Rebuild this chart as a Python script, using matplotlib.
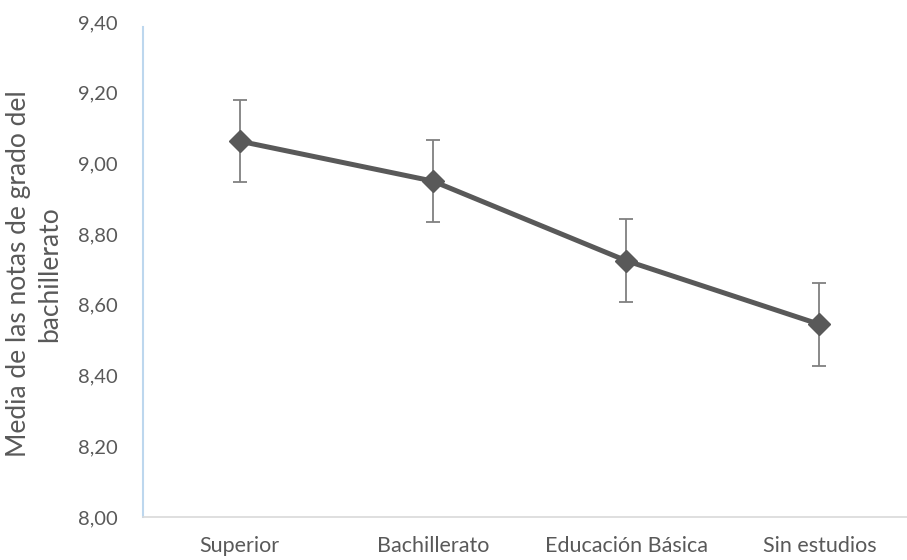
import matplotlib
matplotlib.use("Agg")
import matplotlib.pyplot as plt
from matplotlib.ticker import FuncFormatter

categories = ["Superior", "Bachillerato", "Educación Básica", "Sin estudios"]
means = [9.063, 8.950, 8.725, 8.545]
errors = [0.115, 0.115, 0.117, 0.117]
y_ticks = [8.00, 8.20, 8.40, 8.60, 8.80, 9.00, 9.20, 9.40]
y_label = "Media de las notas de grado del\nbachillerato"

plt.rcParams['font.family'] = ['Lato', 'DejaVu Sans']
text_color = '#595959'

W, H = 907, 560
fig = plt.figure(figsize=(W/100, H/100), dpi=100)
ax = fig.add_axes([143/W, 43/H, (916-143)/W, (517-22)/H])

x = list(range(len(categories)))
ax.errorbar(x, means, yerr=errors, fmt='none', ecolor='#808080',
            elinewidth=1.3, capsize=5, capthick=1.3, zorder=2)
ax.plot(x, means, color='#595959', linewidth=3.6, marker='D',
        markersize=11, markerfacecolor='#595959', markeredgecolor='#595959', zorder=3)

ax.set_xlim(-0.5, 3.5)
ax.set_ylim(8.0, 9.4)
ax.set_yticks(y_ticks)
ax.yaxis.set_major_formatter(FuncFormatter(lambda v, p: f"{v:.2f}".replace('.', ',')))
ax.set_xticks(x)
ax.set_xticklabels(categories)

ax.tick_params(axis='both', length=0, colors=text_color)
ax.tick_params(axis='y', pad=18, labelsize=14.5)
ax.tick_params(axis='x', pad=14, labelsize=15.5)

for s in ['top', 'right']:
    ax.spines[s].set_visible(False)
ax.spines['left'].set_color('#bdd7ee')
ax.spines['left'].set_linewidth(1.5)
ax.spines['left'].set_bounds(8.0, 9.385)
ax.spines['bottom'].set_color('#d9d9d9')
ax.spines['bottom'].set_linewidth(1.2)

fig.text(34/W, 1 - 274/H, y_label, rotation=90, ha='center', va='center',
         multialignment='center', fontsize=19, color=text_color, linespacing=1.3)

fig.savefig("out.png", dpi=100)
